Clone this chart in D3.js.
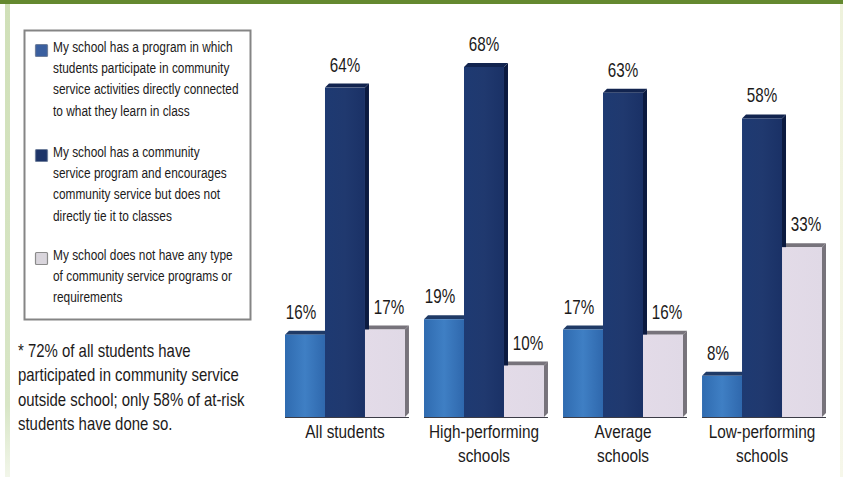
<!DOCTYPE html>
<html><head><meta charset="utf-8">
<script src="https://cdnjs.cloudflare.com/ajax/libs/d3/7.8.5/d3.min.js"></script>
<style>html,body{margin:0;padding:0;background:#fff}svg{display:block}text{font-family:"Liberation Sans",sans-serif;fill:#1c1a1a}</style>
</head><body><svg id="c" width="843" height="477"></svg>
<script>
const categories=[["All students"],["High-performing","schools"],["Average","schools"],["Low-performing","schools"]];
const seriesNames=["connected","encouraged","none"];
const connected=[16,19,17,8];
const encouraged=[64,68,63,58];
const none=[17,10,16,33];
const seriesValues=[connected,encouraged,none];
const frontColors=["url(#gBlue)","url(#gNavy)","url(#gPale)"];
const capColors=["#1f3a66","#12244f","#77737b"];
const sideColors=["#1f3a66","#0b1a40","#77737b"];
const legendColors=["#3a5f9f","#1d3468","#d9d5dc"];
const legendTexts=[
 ["My school has a program in which","students participate in community","service activities directly connected","to what they learn in class"],
 ["My school has a community","service program and encourages","community service but does not","directly tie it to classes"],
 ["My school does not have any type","of community service programs or","requirements"]];
const legendBaselines=[52,157,260];
const noteLines=["* 72% of all students have","participated in community service","outside school; only 58% of at-risk","students have done so."];

const svg=d3.select("#c");
const defs=svg.append("defs");
function grad(id,stops,vertical){const g=defs.append("linearGradient").attr("id",id);if(vertical)g.attr("x2",0).attr("y2",1);stops.forEach(s=>g.append("stop").attr("offset",s[0]).attr("stop-color",s[1]));}
grad("gBlue",[[0,"#2f6bb0"],[.5,"#3f7fc4"],[1,"#2f68ad"]]);
grad("gNavy",[[0,"#1e3a72"],[.5,"#20396f"],[1,"#1a3166"]]);
grad("gPale",[[0,"#e3dbe8"],[1,"#e0d9e6"]]);
grad("gStrip",[[0,"#d0e0b8"],[.85,"#d8e6c6"],[1,"#f2f6ea"]],true);
grad("gEdge",[[0,"#eef2dc"],[1,"#f6f7ea"]],true);

function txt(str,x,y,size,sx,anchor){
  return svg.append("text").attr("transform",`translate(${x},${y}) scale(${sx},1)`)
    .attr("text-anchor",anchor||"start").attr("font-size",size).text(str);
}

// page furniture
svg.append("rect").attr("x",0).attr("y",0).attr("width",843).attr("height",4).attr("fill","#64892f");
svg.append("rect").attr("x",5).attr("y",4).attr("width",5).attr("height",473).attr("fill","url(#gStrip)");
svg.append("rect").attr("x",840).attr("y",4).attr("width",3).attr("height",473).attr("fill","url(#gEdge)");

// legend
svg.append("rect").attr("x",24.5).attr("y",30.5).attr("width",226).attr("height",289).attr("fill","#fff").attr("stroke","#858585").attr("stroke-width",2);
legendTexts.forEach((lines,i)=>{
  svg.append("rect").attr("x",35.5).attr("y",legendBaselines[i]-7.5).attr("width",12).attr("height",12).attr("rx",1)
    .attr("fill",legendColors[i]).attr("stroke",i==2?"#8b8b8b":"#6f7f9c").attr("stroke-width",1.2);
  lines.forEach((t,j)=>txt(t,53,legendBaselines[i]+j*21.2,14.5,0.82));
});
// note
noteLines.forEach((t,j)=>txt(t,18,357+j*24.3,18,0.83));

// chart
const x0=d3.scaleBand().domain(d3.range(categories.length)).range([285,822]).paddingInner(0.137);
const x1=d3.scaleBand().domain(seriesNames).range([0,x0.bandwidth()]);
const y=d3.scaleLinear().domain([0,68]).range([417,67]);
const depth=4;
const labelShift=[-4,0,4];
categories.forEach((cat,g)=>{
  const gx=x0(g);
  [2,1,0].forEach(s=>{
    const v=seriesValues[s][g],x=gx+x1(seriesNames[s]),w=x1.bandwidth(),t=y(v),b=y(0);
    svg.append("path").attr("d",`M${x+w},${t}l${depth},${-depth}V${b-depth}l${-depth},${depth}Z`).attr("fill",sideColors[s]);
    svg.append("path").attr("d",`M${x},${t}l${depth},${-depth}h${w}l${-depth},${depth}Z`).attr("fill",capColors[s]);
  });
  [2,0,1].forEach(s=>{
    const v=seriesValues[s][g],x=gx+x1(seriesNames[s]),w=x1.bandwidth(),t=y(v);
    svg.append("rect").attr("x",x).attr("y",t).attr("width",w).attr("height",y(0)-t).attr("fill",frontColors[s]);
  });
  svg.append("line").attr("x1",gx).attr("x2",gx+x0.bandwidth()+depth).attr("y1",y(0)+.5).attr("y2",y(0)+.5).attr("stroke","#3c3c46").attr("stroke-width",1);
  seriesNames.forEach((n,s)=>{
    const v=seriesValues[s][g];
    txt(v+"%",gx+x1(n)+x1.bandwidth()/2+labelShift[s],y(v)-16,20,0.76,"middle");
  });
  cat.forEach((t,j)=>txt(t,gx+x0.bandwidth()/2,438+j*24,18.5,0.83,"middle"));
});
</script></body></html>
